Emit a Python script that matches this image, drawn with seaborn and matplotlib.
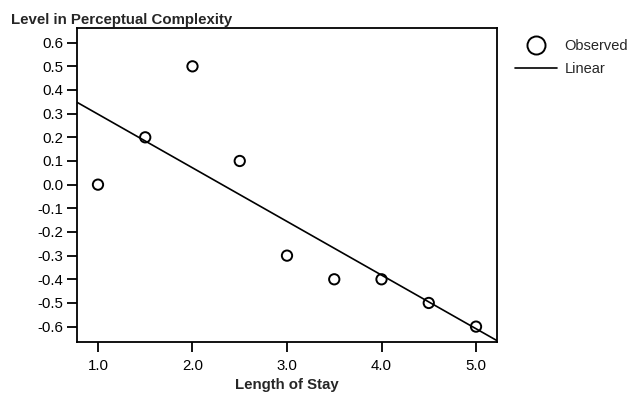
import numpy as np
import pandas as pd
import seaborn as sns
import matplotlib.pyplot as plt
from matplotlib.lines import Line2D

# data
length_of_stay = [1.0, 1.5, 2.0, 2.5, 3.0, 3.5, 4.0, 4.5, 5.0]
perceptual_level = [0.0, 0.2, 0.5, 0.1, -0.3, -0.4, -0.4, -0.5, -0.6]
x_ticks = [1.0, 2.0, 3.0, 4.0, 5.0]
y_ticks = [0.6, 0.5, 0.4, 0.3, 0.2, 0.1, 0.0, -0.1, -0.2, -0.3, -0.4, -0.5, -0.6]

df = pd.DataFrame({'stay': length_of_stay, 'level': perceptual_level})

sns.set_style('ticks')
plt.rcParams['font.family'] = ['Liberation Sans', 'DejaVu Sans']
plt.rcParams.update({
    'xtick.major.size': 7.5, 'ytick.major.size': 7.5,
    'xtick.major.width': 1.3, 'ytick.major.width': 1.3,
    'xtick.color': 'black', 'ytick.color': 'black',
    'xtick.bottom': True, 'ytick.left': True,
    'xtick.major.pad': 5, 'ytick.major.pad': 2.5,
    'xtick.labelsize': 10.8, 'ytick.labelsize': 10.8,
    'axes.edgecolor': 'black', 'axes.linewidth': 1.3,
})

fig = plt.figure(figsize=(6.3, 3.94), dpi=100)
ax = fig.add_axes([77/630, 1-342/394, 420/630, 314/394])

ax.set_xlim(0.778, 5.222)
ax.set_ylim(-0.665, 0.662)

# linear fit across the whole axis range
sns.regplot(data=df, x='stay', y='level', ax=ax, scatter=False, ci=None,
            truncate=False, color='black', line_kws={'linewidth': 1.2})
sns.scatterplot(data=df, x='stay', y='level', ax=ax, marker='o', s=55,
                facecolor='none', edgecolor='black', linewidth=1.4, zorder=3)

ax.set_xlabel('Length of Stay', fontsize=10.8, fontweight='bold', labelpad=3)
ax.set_ylabel('')

ax.text(11/630, 1-24/394, 'Level in Perceptual Complexity', fontsize=10.8,
        fontweight='bold', va='baseline', ha='left',
        transform=fig.transFigure, clip_on=False)

handles = [
    Line2D([], [], marker='o', linestyle='none', markersize=13,
           markerfacecolor='none', markeredgecolor='black', markeredgewidth=1.4),
    Line2D([], [], color='black', linewidth=1.2),
]
ax.legend(handles, ['Observed', 'Linear'], loc='upper left',
          bbox_to_anchor=(515/630, 1-39/394), bbox_transform=fig.transFigure,
          frameon=False, fontsize=10.5, handlelength=2.9, handletextpad=0.5,
          labelspacing=0.6, borderaxespad=0, borderpad=0)

ax.set_xticks(x_ticks)
ax.set_xticklabels([f'{v:.1f}' for v in x_ticks])
ax.set_yticks(y_ticks)
ax.set_yticklabels([f'{v:.1f}' for v in y_ticks])
ax.tick_params(bottom=True, left=True, top=False, right=False,
               direction='out', length=7.5, width=1.3, color='black')
for t in ax.xaxis.get_major_ticks() + ax.yaxis.get_major_ticks():
    t.tick1line.set_visible(True)
    t.tick1line.set_zorder(5)

fig.canvas.draw()
fig.savefig('out.png', dpi=100)
